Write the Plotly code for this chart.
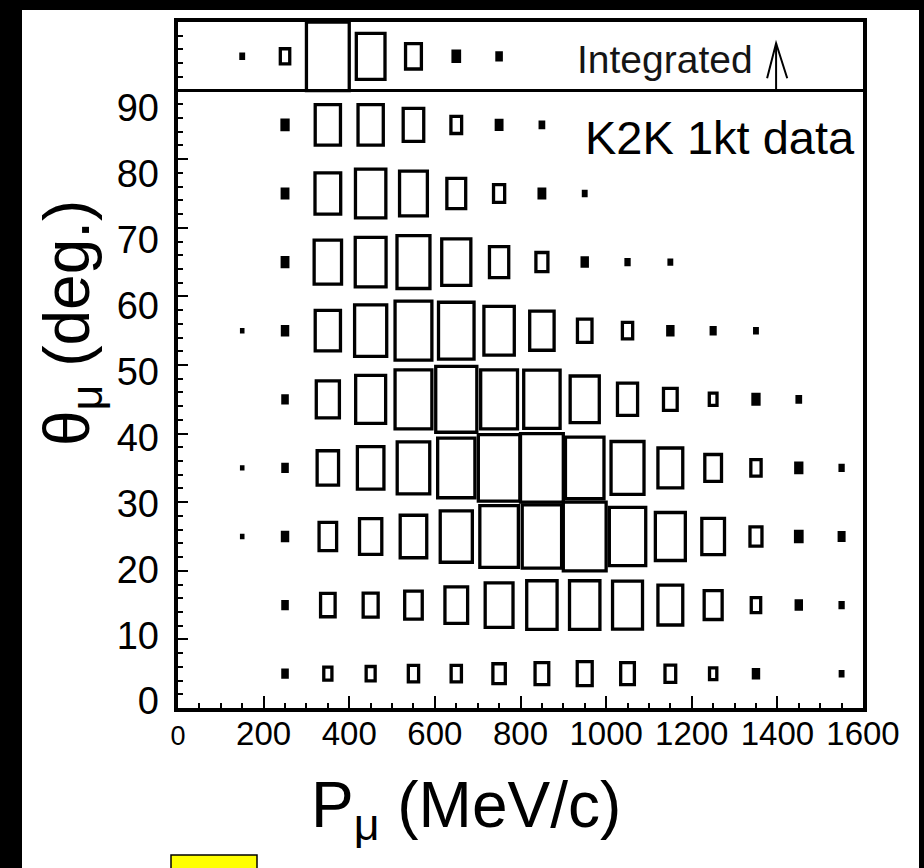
import plotly.graph_objects as go

# ---------------- data (box sizes relative to the largest cell, 1.0 = full bin) ----------------
p_mu_centers = [150, 250, 350, 450, 550, 650, 750, 850, 950, 1050, 1150, 1250, 1350, 1450, 1550]
theta_centers = [5, 15, 25, 35, 45, 55, 65, 75, 85]

theta_00_10 = [0.00, 0.10, 0.19, 0.21, 0.24, 0.24, 0.29, 0.32, 0.35, 0.32, 0.25, 0.17, 0.12, 0.00, 0.06]
theta_10_20 = [0.00, 0.10, 0.34, 0.35, 0.41, 0.53, 0.65, 0.71, 0.71, 0.70, 0.58, 0.42, 0.22, 0.12, 0.07]
theta_20_30 = [0.03, 0.12, 0.41, 0.52, 0.62, 0.75, 0.90, 0.92, 1.00, 0.85, 0.70, 0.53, 0.28, 0.15, 0.11]
theta_30_40 = [0.03, 0.10, 0.50, 0.62, 0.76, 0.87, 0.97, 1.00, 0.90, 0.77, 0.58, 0.39, 0.24, 0.14, 0.07]
theta_40_50 = [0.00, 0.10, 0.54, 0.70, 0.86, 0.96, 0.86, 0.85, 0.68, 0.47, 0.32, 0.18, 0.14, 0.08, 0.00]
theta_50_60 = [0.03, 0.12, 0.59, 0.75, 0.86, 0.83, 0.71, 0.57, 0.34, 0.24, 0.12, 0.09, 0.06, 0.00, 0.00]
theta_60_70 = [0.00, 0.13, 0.64, 0.72, 0.77, 0.68, 0.45, 0.28, 0.12, 0.07, 0.06, 0.00, 0.00, 0.00, 0.00]
theta_70_80 = [0.00, 0.13, 0.60, 0.71, 0.65, 0.44, 0.26, 0.13, 0.06, 0.00, 0.00, 0.00, 0.00, 0.00, 0.00]
theta_80_90 = [0.00, 0.14, 0.59, 0.59, 0.48, 0.25, 0.13, 0.08, 0.00, 0.00, 0.00, 0.00, 0.00, 0.00, 0.00]
integrated = [0.06, 0.22, 1.00, 0.67, 0.37, 0.15, 0.10, 0.00, 0.00, 0.00, 0.00, 0.00, 0.00, 0.00, 0.00]
integrated_center = 95

x_tick_values = [0, 200, 400, 600, 800, 1000, 1200, 1400, 1600]
x_tick_labels = ["<span style='font-size:27px'>0</span>", "200", "400", "600", "800",
                 "1000", "1200", "1400", "1600"]
y_tick_values = [0, 10, 20, 30, 40, 50, 60, 70, 80, 90]
y_tick_labels = ["0", "10", "20", "30", "40", "50", "60", "70", "80", "90"]

rows = [theta_00_10, theta_10_20, theta_20_30, theta_30_40, theta_40_50,
        theta_50_60, theta_60_70, theta_70_80, theta_80_90]

BIN_W = 100
BIN_H = 10
SMALL = 0.16          # boxes smaller than this render as solid squares
FONT = "Liberation Sans, Arial, sans-serif"


def box_outlines(xcenters, ycenter, fracs, small):
    xs, ys = [], []
    for xc, f in zip(xcenters, fracs):
        if f <= 0 or (f < SMALL) != small:
            continue
        hw = f * BIN_W / 2
        hh = f * BIN_H / 2
        xs += [xc - hw, xc + hw, xc + hw, xc - hw, xc - hw, xc + hw, None]
        ys += [ycenter - hh, ycenter - hh, ycenter + hh, ycenter + hh, ycenter - hh, ycenter - hh, None]
    return xs, ys


fig = go.Figure()

for small in (False, True):
    all_x, all_y = [], []
    for yc, fr in zip(theta_centers, rows):
        bx, by = box_outlines(p_mu_centers, yc, fr, small)
        all_x += bx
        all_y += by
    ix, iy = box_outlines(p_mu_centers, integrated_center, integrated, small)
    all_x += ix
    all_y += iy
    fig.add_trace(go.Scatter(x=all_x, y=all_y, mode="lines",
                             line=dict(color="black", width=3.3),
                             fill="toself" if small else "none",
                             fillcolor="black",
                             hoverinfo="skip", showlegend=False))

# invisible trace on the overlay axis carrying the angle labels
fig.add_trace(go.Scatter(x=[None], y=[None], yaxis="y2", showlegend=False, hoverinfo="skip"))

fig.update_layout(
    width=924, height=868,
    margin=dict(l=178, r=61, t=22, b=160),
    paper_bgcolor="black",
    plot_bgcolor="white",
    showlegend=False,
    xaxis=dict(range=[0, 1600], showgrid=False, zeroline=False,
               showline=True, linecolor="black", linewidth=3.5, mirror=True,
               ticks="inside", ticklen=12, tickwidth=2, tickcolor="black",
               tickmode="array", tickvals=x_tick_values, ticktext=x_tick_labels,
               tickfont=dict(family=FONT, size=33, color="black"),
               ticklabelstandoff=-6,
               minor=dict(dtick=50, tick0=0, ticks="inside", ticklen=5, tickwidth=2, tickcolor="black")),
    yaxis=dict(range=[0, 100], showgrid=False, zeroline=False,
               showline=True, linecolor="black", linewidth=3.5, mirror=True,
               ticks="inside", ticklen=10, tickwidth=2, tickcolor="black",
               tickmode="linear", tick0=0, dtick=10, showticklabels=False,
               minor=dict(dtick=2, tick0=0, ticks="inside", ticklen=5, tickwidth=2, tickcolor="black")),
    yaxis2=dict(overlaying="y", side="left", range=[-1.04, 103.0],
                showgrid=False, zeroline=False, showline=False, ticks="",
                tickmode="array", tickvals=y_tick_values, ticktext=y_tick_labels,
                tickfont=dict(family=FONT, size=38, color="black"),
                ticklabelstandoff=18),
)

# white slide panel behind the plot
fig.add_shape(type="rect", xref="paper", yref="paper",
              x0=(22 - 178) / 685, x1=(919 - 178) / 685,
              y0=-0.26, y1=(708 - 10) / 686,
              fillcolor="white", line=dict(width=0), layer="below")

# separator of the integrated strip
fig.add_shape(type="line", xref="x", yref="y", x0=0, x1=1600, y0=90, y1=90,
              line=dict(color="black", width=3))
# arrow in the integrated strip
fig.add_shape(type="line", xref="x", yref="y", x0=1397, x1=1397, y0=90, y1=96.9,
              line=dict(color="black", width=2))
fig.add_shape(type="path", xref="x", yref="y",
              path="M 1376 91.8 L 1397 96.9 L 1423 91.8",
              line=dict(color="black", width=2))

# small yellow box at the bottom
fig.add_shape(type="rect", xref="paper", yref="paper",
              x0=(171 - 178) / 685, x1=(257 - 178) / 685,
              y0=(708 - 855) / 686, y1=-0.26,
              fillcolor="#ffff00", line=dict(color="black", width=1.5))

fig.add_annotation(text="Integrated", xref="x", yref="y", x=927, y=94.6,
                   xanchor="left", yanchor="middle", showarrow=False,
                   font=dict(family=FONT, size=39, color="#151515"))
fig.add_annotation(text="K2K 1kt data", xref="x", yref="y", x=946, y=83.2,
                   xanchor="left", yanchor="middle", showarrow=False,
                   font=dict(family=FONT, size=47, color="black"))
fig.add_annotation(text="P<sub>μ</sub> (MeV/c)", xref="paper", yref="paper",
                   x=(466 - 178) / 685, y=(708 - 809) / 686,
                   xanchor="center", yanchor="middle", showarrow=False,
                   font=dict(family=FONT, size=64, color="black"))
fig.add_annotation(text="θ<sub>μ</sub> (deg.)", xref="paper", yref="paper",
                   x=(71 - 178) / 685, y=(708 - 323) / 686, textangle=-90,
                   xanchor="center", yanchor="middle", showarrow=False,
                   font=dict(family=FONT, size=64, color="black"))

fig.write_html("out.html")
